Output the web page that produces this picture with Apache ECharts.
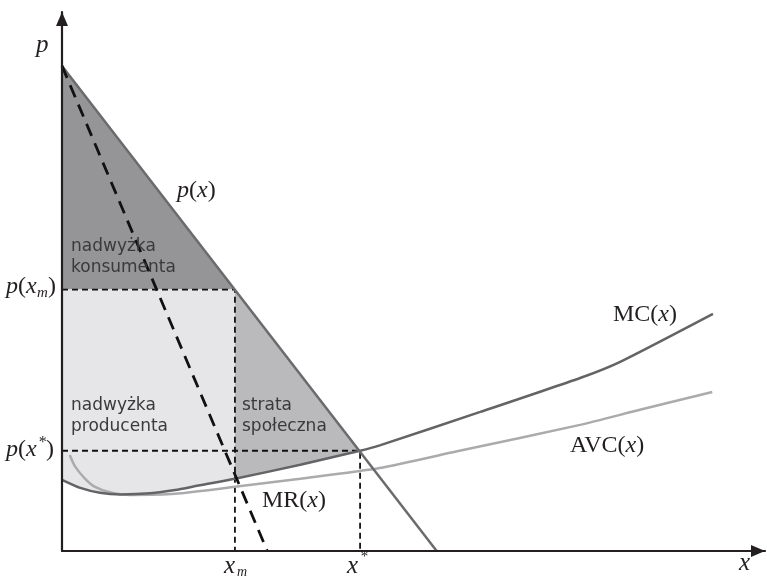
<!DOCTYPE html>
<html>
<head>
<meta charset="utf-8">
<script src="https://cdn.jsdelivr.net/npm/echarts@6/dist/echarts.min.js"></script>
<style>
  html, body { margin: 0; padding: 0; background: #fff; }
  #chart { width: 767px; height: 578px; }
</style>
</head>
<body>
<div id="chart"></div>
<script>
// values (x: 0..100, p: 0..100)
var demand = [[0, 90], [53.3, 0]];
var marginalRevenue = [[0, 90], [29.2, 0]];
var mc = [[0, 13.2], [2.6, 11.7], [5.4, 10.8], [8.3, 10.5], [12.5, 10.7], [16.1, 11.3], [19.6, 12.2],
          [24.6, 13.4], [33.9, 16.0], [42.4, 18.6], [45.2, 19.6], [59.5, 25.8], [73.7, 32.1],
          [79.4, 35.1], [92.6, 44.0]];
var avc = [[1.1, 17.8], [1.8, 15.8], [3.3, 13.4], [4.7, 11.9], [6.8, 10.9], [9.7, 10.4], [16.1, 10.6],
           [24.6, 11.9], [33.9, 13.4], [45.2, 15.4], [56.2, 18.5], [73.7, 23.4], [82.2, 26.2], [92.5, 29.5]];
var xm = 24.6, pxm = 48.5;
var xStar = 42.4, pStar = 18.6;

// areas built from the curves above
var mcUpToXm = mc.filter(function (p) { return p[0] <= xm; });
var mcXmToStar = mc.filter(function (p) { return p[0] >= xm && p[0] <= xStar; });
var consumerArea = [[0, 90], [xm, pxm], [0, pxm]];
var producerArea = [[0, pxm], [xm, pxm]].concat(mcUpToXm.slice().reverse());
var lossArea = [[xm, pxm], [xStar, pStar]].concat(mcXmToStar.slice().reverse());

function polygon(points, color) {
    return {
        type: 'custom',
        silent: true,
        z: 1,
        data: [[0, 0]],
        renderItem: function (params, api) {
            return {
                type: 'polygon',
                shape: { points: points.map(function (p) { return api.coord(p); }) },
                style: { fill: color }
            };
        }
    };
}

function line(data, color, width, type, smooth) {
    return {
        type: 'line',
        data: data,
        symbol: 'none',
        silent: true,
        smooth: smooth || false,
        z: 3,
        lineStyle: { color: color, width: width, type: type || 'solid' }
    };
}

var serif = 'Liberation Serif';
var ink = '#231f20';
var mathRich = {
    i: { fontFamily: serif, fontStyle: 'italic', fontSize: 24, fill: ink, color: ink },
    n: { fontFamily: serif, fontSize: 24, fill: ink, color: ink }
};

function mathText(text, x, y) {
    return {
        type: 'text', x: x, y: y, z: 20,
        style: { text: text, rich: mathRich, textVerticalAlign: 'middle', textAlign: 'left', fill: ink }
    };
}
function smallText(text, x, y, size) {
    return {
        type: 'text', x: x, y: y, z: 20,
        style: { text: text, fontFamily: serif, fontStyle: 'italic', fontSize: size, fill: ink,
                 textVerticalAlign: 'middle', textAlign: 'left' }
    };
}
function sansText(text, x, y) {
    return {
        type: 'text', x: x, y: y, z: 20,
        style: { text: text, fontFamily: 'DejaVu Sans', fontSize: 17, lineHeight: 21, fill: '#3a3a3a',
                 textVerticalAlign: 'top', textAlign: 'left' }
    };
}

var chart = echarts.init(document.getElementById('chart'));
chart.setOption({
    animation: false,
    backgroundColor: '#fff',
    grid: { left: 62, right: 2, top: 12, bottom: 27, outerBoundsMode: 'none' },
    xAxis: {
        type: 'value', min: 0, max: 100, z: 10,
        axisLine: { show: true, onZero: false, symbol: ['none', 'triangle'], symbolSize: [12, 14],
                    symbolOffset: [0, -7], lineStyle: { color: ink, width: 2.2 } },
        axisTick: { show: false }, axisLabel: { show: false }, splitLine: { show: false }
    },
    yAxis: {
        type: 'value', min: 0, max: 100, z: 10,
        axisLine: { show: true, onZero: false, symbol: ['none', 'triangle'], symbolSize: [12, 14],
                    symbolOffset: [0, -7], lineStyle: { color: ink, width: 2.2 } },
        axisTick: { show: false }, axisLabel: { show: false }, splitLine: { show: false }
    },
    series: [
        polygon(consumerArea, '#959597'),
        polygon(producerArea, '#e6e6e8'),
        polygon(lossArea, '#bababc'),
        line([[0, pxm], [xm, pxm], [xm, 0]], '#111', 1.8, [6, 4]),
        line([[0, pStar], [xStar, pStar], [xStar, 0]], '#111', 1.8, [6, 4]),
        line(avc, '#ababad', 2.5, 'solid', 0.2),
        line(mc, '#646467', 2.5, 'solid', 0.2),
        line(demand, '#6b6b6e', 2.5),
        line(marginalRevenue, '#111', 2.8, [13, 8])
    ],
    graphic: [
        smallText('p', 36, 45, 25),
        smallText('x', 739, 563, 25),
        mathText('{i|p}{n|(}{i|x}{n|)}', 177, 191),
        mathText('{n|MC(}{i|x}{n|)}', 613, 315),
        mathText('{n|AVC(}{i|x}{n|)}', 570, 446),
        mathText('{n|MR(}{i|x}{n|)}', 262, 501),
        mathText('{i|p}{n|(}{i|x}', 6, 287),
        smallText('m', 37, 293, 15),
        mathText('{n|)}', 48, 287),
        mathText('{i|p}{n|(}{i|x}', 6, 450),
        smallText('*', 38, 443, 16),
        mathText('{n|)}', 46, 450),
        smallText('x', 224, 566, 25),
        smallText('m', 237, 572, 14),
        smallText('x', 347, 566, 25),
        smallText('*', 360, 557, 15),
        sansText('nadwyżka\nkonsumenta', 71, 236),
        sansText('nadwyżka\nproducenta', 71, 395),
        sansText('strata\nspołeczna', 242, 395)
    ]
});
</script>
</body>
</html>
